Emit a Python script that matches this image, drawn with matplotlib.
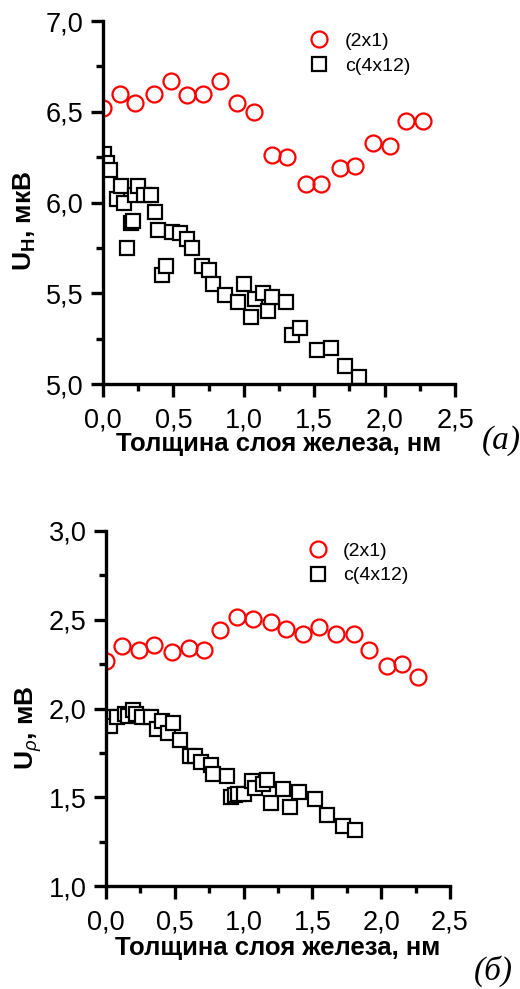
import matplotlib
matplotlib.use('Agg')
import matplotlib.pyplot as plt
from matplotlib.ticker import MultipleLocator, FuncFormatter

plt.rcParams['font.family'] = ['Liberation Sans', 'DejaVu Sans']
plt.rcParams['mathtext.fontset'] = 'custom'
plt.rcParams['mathtext.rm'] = 'Liberation Sans'
plt.rcParams['mathtext.it'] = 'Liberation Sans:italic'
plt.rcParams['mathtext.bf'] = 'Liberation Sans:bold'

# panel (а): Hall voltage
x_a_21 = [0.00, 0.12, 0.23, 0.36, 0.48, 0.60, 0.71, 0.83, 0.95, 1.07,
          1.20, 1.31, 1.44, 1.55, 1.68, 1.79, 1.92, 2.04, 2.15, 2.27]
y_a_21 = [6.52, 6.60, 6.55, 6.60, 6.67, 6.59, 6.60, 6.67, 6.55, 6.50,
          6.26, 6.25, 6.10, 6.10, 6.19, 6.20, 6.33, 6.31, 6.45, 6.45]
x_a_412 = [0.01, 0.03, 0.05, 0.10, 0.13, 0.15, 0.17, 0.20, 0.21, 0.23,
           0.25, 0.29, 0.34, 0.37, 0.39, 0.42, 0.45, 0.49, 0.55, 0.60,
           0.63, 0.70, 0.75, 0.78, 0.87, 0.96, 1.00, 1.05, 1.08, 1.14,
           1.17, 1.20, 1.30, 1.34, 1.40, 1.52, 1.62, 1.72, 1.82]
y_a_412 = [6.27, 6.22, 6.18, 6.02, 6.09, 6.00, 5.75, 5.89, 5.90, 6.04,
           6.09, 6.04, 6.04, 5.95, 5.85, 5.60, 5.65, 5.84, 5.83, 5.80,
           5.75, 5.65, 5.63, 5.55, 5.49, 5.45, 5.55, 5.37, 5.47, 5.50,
           5.40, 5.48, 5.45, 5.27, 5.31, 5.19, 5.20, 5.10, 5.04]

# panel (б): resistivity voltage
x_b_21 = [0.00, 0.12, 0.24, 0.35, 0.48, 0.60, 0.71, 0.83, 0.95, 1.07,
          1.20, 1.31, 1.43, 1.55, 1.67, 1.80, 1.91, 2.04, 2.15, 2.27]
y_b_21 = [2.27, 2.35, 2.33, 2.355, 2.32, 2.34, 2.33, 2.44, 2.515, 2.505,
          2.49, 2.45, 2.42, 2.46, 2.42, 2.42, 2.33, 2.24, 2.25, 2.18]
x_b_412 = [0.03, 0.03, 0.08, 0.14, 0.16, 0.20, 0.22, 0.26, 0.33, 0.37,
           0.41, 0.45, 0.49, 0.54, 0.61, 0.65, 0.69, 0.76, 0.78, 0.88,
           0.91, 0.94, 0.96, 1.00, 1.06, 1.08, 1.14, 1.17, 1.20, 1.29,
           1.34, 1.40, 1.52, 1.61, 1.72, 1.81]
y_b_412 = [1.95, 1.90, 1.95, 1.97, 1.96, 1.99, 1.97, 1.955, 1.95, 1.885,
           1.93, 1.86, 1.92, 1.82, 1.735, 1.73, 1.70, 1.68, 1.63, 1.62,
           1.50, 1.515, 1.52, 1.52, 1.59, 1.55, 1.575, 1.595, 1.465, 1.545,
           1.445, 1.53, 1.49, 1.40, 1.34, 1.315]

labels = ['(2x1)', 'c(4x12)']
xlabel = 'Толщина слоя железа, нм'

comma = FuncFormatter(lambda v, p: f'{v:.1f}'.replace('.', ','))

fig = plt.figure(figsize=(5.2, 9.89), dpi=100)
ax1 = fig.add_axes([0.198, 0.6117, 0.677, 0.367])
ax2 = fig.add_axes([0.2038, 0.1041, 0.6615, 0.359])

panels = [
    (ax1, x_a_21, y_a_21, x_a_412, y_a_412, (5.0, 7.0),
     r'U$_\mathbf{H}$, мкВ', (-0.185, 0.45), -1, '(а)', 0.965, 0.554),
    (ax2, x_b_21, y_b_21, x_b_412, y_b_412, (1.0, 3.0),
     r'U$_\rho$, мВ', (-0.18, 0.445), 0, '(б)', 0.948, 0.018),
]

for ax, xc, yc, xs, ys, ylim, ylab, ylab_xy, xpad, tag, tx, ty in panels:
    ax.plot(xc, yc, 'o', ls='none', ms=11.5, mfc='none', mec='red',
            mew=1.6, label=labels[0])
    ax.plot(xs, ys, 's', ls='none', ms=10.5, mfc='white', mec='black',
            mew=1.6, label=labels[1])
    ax.set_xlim(0, 2.5)
    ax.set_ylim(*ylim)
    ax.spines['top'].set_visible(False)
    ax.spines['right'].set_visible(False)
    ax.spines['left'].set_linewidth(2.4)
    ax.spines['bottom'].set_linewidth(2.4)
    ax.xaxis.set_major_locator(MultipleLocator(0.5))
    ax.xaxis.set_minor_locator(MultipleLocator(0.25))
    ax.yaxis.set_major_locator(MultipleLocator(0.5))
    ax.yaxis.set_minor_locator(MultipleLocator(0.25))
    ax.xaxis.set_major_formatter(comma)
    ax.yaxis.set_major_formatter(comma)
    ax.tick_params(which='major', direction='out', length=9, width=2.4,
                   labelsize=19.5, pad=5)
    ax.tick_params(axis='x', which='major', pad=8)
    ax.tick_params(which='minor', direction='out', length=5, width=2.4)
    ax.set_xlabel(xlabel, fontsize=18.5, fontweight='bold', labelpad=xpad)
    ax.set_ylabel(ylab, fontsize=19, fontweight='bold')
    ax.yaxis.set_label_coords(*ylab_xy)
    ax.legend(loc='upper left', bbox_to_anchor=(0.565, 0.99), frameon=False,
              fontsize=14, numpoints=1, handlelength=1.0,
              handletextpad=0.8, labelspacing=0.35, borderaxespad=0.0)
    fig.text(tx, ty, tag, fontsize=24, family='Liberation Serif',
             style='italic', ha='center', va='center')

fig.savefig('out.png', dpi=100)
